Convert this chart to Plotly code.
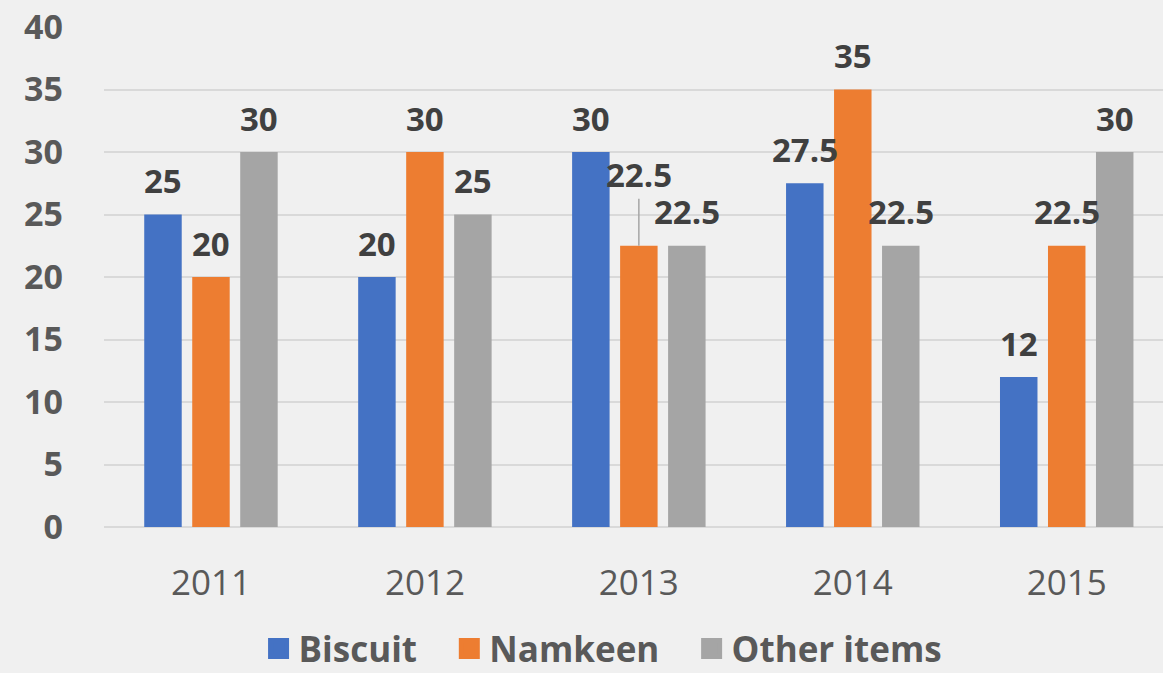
import plotly.graph_objects as go

years = ["2011", "2012", "2013", "2014", "2015"]
biscuit = [25, 20, 30, 27.5, 12]
namkeen = [20, 30, 22.5, 35, 22.5]
other_items = [30, 25, 22.5, 22.5, 30]

series = [
    ("Biscuit", biscuit, "#4472C4"),
    ("Namkeen", namkeen, "#ED7D31"),
    ("Other items", other_items, "#A5A5A5"),
]

FONT = "Open Sans"
BARGAP = 0.327
PAD = "\u00a0\u00a0\u00a0"


def main():
    fig = go.Figure()

    for name, vals, color in series:
        fig.add_trace(go.Bar(x=years, y=vals, name=name, marker_color=color,
                             marker_line_width=0, showlegend=False))
        # dummy trace just for a bigger legend swatch
        fig.add_trace(go.Scatter(x=[None], y=[None], mode="markers", name=name + PAD,
                                 marker=dict(symbol="square", size=16, color=color,
                                             line=dict(color=color, width=5))))

    # data labels above bars
    slot = (1 - BARGAP) / 3
    for k, (name, vals, color) in enumerate(series):
        for i, v in enumerate(vals):
            x = i + (k - 1) * slot
            if name == "Namkeen" and years[i] == "2013":
                # this one was pushed up with a leader line
                fig.add_annotation(x=x, y=v, text=f"<b>{v:g}</b>", showarrow=True,
                                   arrowhead=0, arrowwidth=1.5, arrowcolor="#A6A6A6",
                                   ax=0, ay=-71, font=dict(family=FONT, size=33, color="#404040"))
            else:
                fig.add_annotation(x=x, y=v, text=f"<b>{v:g}</b>", showarrow=False,
                                   yshift=34, yanchor="middle",
                                   font=dict(family=FONT, size=33, color="#404040"))

    fig.update_layout(
        width=1163, height=673,
        margin=dict(l=104, r=0, t=27, b=146),
        paper_bgcolor="#F0F0F0", plot_bgcolor="#F0F0F0",
        barmode="group", bargap=BARGAP, bargroupgap=0.219,
        font=dict(family=FONT, color="#595959"),
        legend=dict(orientation="h", x=0.484, xanchor="center",
                    yref="container", y=0.036, yanchor="middle",
                    font=dict(family=FONT, size=35, color="#595959", weight="bold"),
                    itemwidth=30, bgcolor="rgba(0,0,0,0)"),
        xaxis=dict(range=[-0.5, 4.45], showgrid=False, zeroline=False, showline=False,
                   ticks="", ticklabelstandoff=32,
                   tickfont=dict(family=FONT, size=35, color="#595959")),
        yaxis=dict(range=[0, 40], dtick=5, showgrid=True, gridcolor="#D9D9D9", gridwidth=1.5,
                   zeroline=True, zerolinecolor="#D9D9D9", zerolinewidth=1.5,
                   showline=False, ticks="", ticklabelstandoff=40,
                   tickfont=dict(family=FONT, size=34, color="#595959", weight="bold")),
    )

    fig.write_html("out.html", config={"displayModeBar": False},
                   post_script="document.body.style.margin='0';"
                   "document.body.style.background='#F0F0F0';")


if __name__ == '__main__':
    main()
